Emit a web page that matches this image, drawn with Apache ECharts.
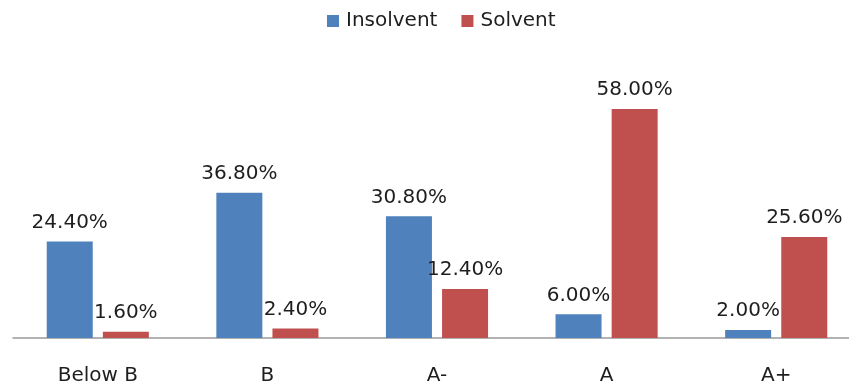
<!DOCTYPE html>
<html>
<head>
<meta charset="utf-8">
<script src="https://cdn.jsdelivr.net/npm/echarts@6/dist/echarts.min.js"></script>
<style>
  html, body { margin: 0; padding: 0; background: #ffffff; }
  #chart { width: 849px; height: 384px; }
</style>
</head>
<body>
<div id="chart"></div>
<script>
// Rating categories and share of firms per rating (percent)
const categories = ['Below B', 'B', 'A-', 'A', 'A+'];
const insolvent = [24.4, 36.8, 30.8, 6.0, 2.0];
const solvent = [1.6, 2.4, 12.4, 58.0, 25.6];

const FONT = '"DejaVu Sans", Verdana, sans-serif';
const TEXT = '#1e1e1e';

const chart = echarts.init(document.getElementById('chart'), null, { renderer: 'canvas' });

const pctLabel = {
  show: true,
  position: 'top',
  distance: 9,
  fontFamily: FONT,
  fontSize: 20,
  color: TEXT,
  formatter: p => p.value.toFixed(2) + '%'
};

chart.setOption({
  animation: false,
  backgroundColor: '#ffffff',
  legend: {
    data: ['Insolvent', 'Solvent'],
    left: 327,
    top: 11,
    padding: 0,
    itemWidth: 12,
    itemHeight: 12,
    itemGap: 24,
    icon: 'rect',
    textStyle: { fontFamily: FONT, fontSize: 20, color: TEXT, padding: [0, 0, 0, 2] }
  },
  // plot area runs a little past the right edge of the canvas
  grid: {
    left: 13, width: 848, top: 61.5, bottom: 46,
    containLabel: false,
    outerBoundsMode: 'none'
  },
  xAxis: {
    type: 'category',
    data: categories,
    axisLine: { show: true, lineStyle: { color: '#999999', width: 1.5 } },
    axisTick: { show: false },
    axisLabel: { margin: 28, fontFamily: FONT, fontSize: 20, color: TEXT }
  },
  yAxis: {
    type: 'value',
    min: 0,
    max: 70,
    show: false,
    splitLine: { show: false }
  },
  series: [
    {
      name: 'Insolvent',
      type: 'bar',
      data: insolvent,
      barWidth: 46,
      barGap: '22%',
      itemStyle: { color: '#4F81BD' },
      label: pctLabel
    },
    {
      name: 'Solvent',
      type: 'bar',
      data: solvent,
      barWidth: 46,
      barGap: '22%',
      itemStyle: { color: '#C0504D' },
      label: pctLabel
    }
  ]
});
</script>
</body>
</html>
